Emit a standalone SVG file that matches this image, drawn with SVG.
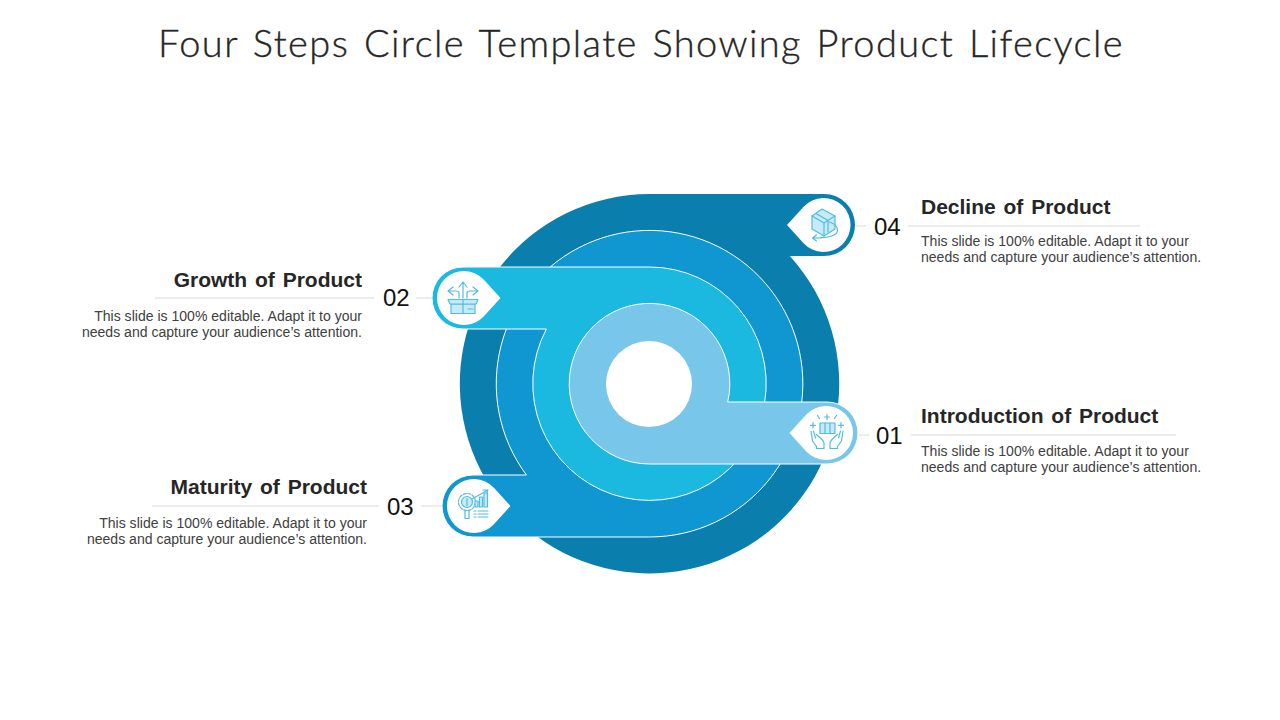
<svg xmlns="http://www.w3.org/2000/svg" xmlns:xlink="http://www.w3.org/1999/xlink" width="1280" height="720" viewBox="0 0 1280 720">
<style>
.title{font-family:"Lato","Liberation Sans",sans-serif;font-weight:300;font-size:38px;letter-spacing:1.4px;fill:#262626;stroke:#262626;stroke-width:.35px;word-spacing:3px}
.head{font-family:"Liberation Sans",Arial,sans-serif;font-weight:700;font-size:21px;fill:#262626;word-spacing:2px}
.body{font-family:"Liberation Sans",Arial,sans-serif;font-size:14.05px;fill:#404040}
.num{font-family:"Liberation Sans",Arial,sans-serif;font-size:24px;fill:#111}
.end{text-anchor:end}
.rule{stroke:#d9d9d9;stroke-width:1;fill:none}
.band{stroke:#fff;stroke-width:1}
.ic{fill:none;stroke:#52bce0;stroke-width:1.2;stroke-linejoin:round;stroke-linecap:round}
.icf{fill:#c6eaf8;stroke:#52bce0;stroke-width:1.2;stroke-linejoin:round}
</style>
<defs>
<path id="drop" d="M-36.5,0 L-19.900,-18.200 A27,27 0 1 1 -19.900,18.200 Z" fill="#fff"/>
</defs>
<rect width="1280" height="720" fill="#fff"/>
<text class="title" x="158" y="57">Four Steps Circle Template Showing Product Lifecycle</text>

<g id="connectors">
<path class="rule" d="M855.500,226H866M908,226H1140"/>
<path class="rule" d="M416,298H432M155,298H374"/>
<path class="rule" d="M421,506H442M152,506H379"/>
<path class="rule" d="M858.500,435H869M911,435H1176"/>
</g>

<g id="node-04">
<path fill="#0a7eac" d="M649.500,194H824A31,31 0 0 1 824,256H789.800A189.700,189.700 0 1 1 649.500,194Z"/>
<use xlink:href="#drop" href="#drop" x="823.500" y="225"/>
<path class="icf" d="M822,209L835,216V229L824,236L812,229V216Z"/>
<path class="ic" d="M812,216L824,223L835,216M824,223V236M816,213.500L828,220.500V232"/>
<path class="ic" d="M829,222C838,224 840,232 834,235C829,238 820,238 813,238M816.500,235L812.500,238L816.500,241"/>
<text class="head" x="921" y="214">Decline of Product</text>
<text class="body" x="921" y="246">This slide is 100% editable. Adapt it to your</text>
<text class="body" x="921" y="262">needs and capture your audience’s attention.</text>
<text class="num" x="874" y="235">04</text>
</g>

<g id="node-03">
<path class="band" fill="#1097d1" d="M649.500,537H473A31,31 0 0 1 473,475H526.400A153.300,153.300 0 1 1 649.500,537Z"/>
<use xlink:href="#drop" href="#drop" transform="translate(474 506) scale(-1 1)"/>
<circle class="ic" cx="467" cy="502" r="8.500" stroke-dasharray="3 1.500" stroke-width="2.200"/>
<circle class="icf" cx="467" cy="502" r="5.500"/>
<path class="ic" d="M467,498.500V505.500M465,510V518.500H469V510M472,499L487,490.500M483,490L488,490L486,495"/>
<path class="icf" d="M475,507V501H478V507ZM479.500,507V497H482.500V507ZM484,507V493H487.500V507Z"/>
<path class="ic" d="M474,511H476M478,511H488M474,514H476M478,514H488M474,517H476M478,517H488"/>
<text class="head end" x="367" y="494">Maturity of Product</text>
<text class="body end" x="367" y="528">This slide is 100% editable. Adapt it to your</text>
<text class="body end" x="367" y="544">needs and capture your audience’s attention.</text>
<text class="num" x="387" y="515">03</text>
</g>

<g id="node-02">
<path class="band" fill="#1bb8e0" d="M649.500,267H463A31,31 0 0 0 463,329H546.400A116.700,116.700 0 1 0 649.500,267Z"/>
<use xlink:href="#drop" href="#drop" transform="translate(464 298) scale(-1 1)"/>
<path class="icf" d="M451,304H475V313.500H451Z"/>
<path class="icf" d="M448,299.500H478L476,304H450Z"/>
<path class="ic" d="M463,299.500V313.500M468,309H473"/>
<path class="ic" d="M463,298V283M459,287L463,282L467,287M459,298V293C459,291.500 458,291 456,291H449M453,287L448,291L453,295M467,298V293C467,291.500 468,291 470,291H477M473,287L478,291L473,295"/>
<text class="head end" x="362" y="287">Growth of Product</text>
<text class="body end" x="362" y="321">This slide is 100% editable. Adapt it to your</text>
<text class="body end" x="362" y="337">needs and capture your audience’s attention.</text>
<text class="num" x="383" y="306">02</text>
</g>

<g id="node-01">
<path class="band" fill="#78c6ea" d="M649.500,464H827A31,31 0 0 0 827,402H727.700A80.300,80.300 0 1 0 649.500,464Z"/>
<use xlink:href="#drop" href="#drop" x="826" y="433"/>
<path class="icf" d="M820,423H835V433.500H820Z"/>
<path class="ic" d="M825,423V433.500M830,423V433.500M827,414.500V419.500M824.500,417H829.500M813,422.500V428M810.500,425.300H815.500M841,422.500V428M838.500,425.300H843.500M817.500,415.500L819.500,418.500M836.500,415.500L834.500,418.500"/>
<path class="ic" d="M811,431L812.500,441L816.500,446.500V448.500H824V443C823.500,440 820,437.500 816.500,434.500M815.500,438L813.500,431"/>
<path class="ic" d="M843,431L841.500,441L837.500,446.500V448.500H830V443C830.500,440 834,437.500 837.500,434.500M838.500,438L840.500,431"/>
<text class="head" x="921" y="423">Introduction of Product</text>
<text class="body" x="921" y="456">This slide is 100% editable. Adapt it to your</text>
<text class="body" x="921" y="472">needs and capture your audience’s attention.</text>
<text class="num" x="876" y="444">01</text>
</g>
<circle id="hub" cx="649" cy="384" r="43" fill="#fff"/>
</svg>
